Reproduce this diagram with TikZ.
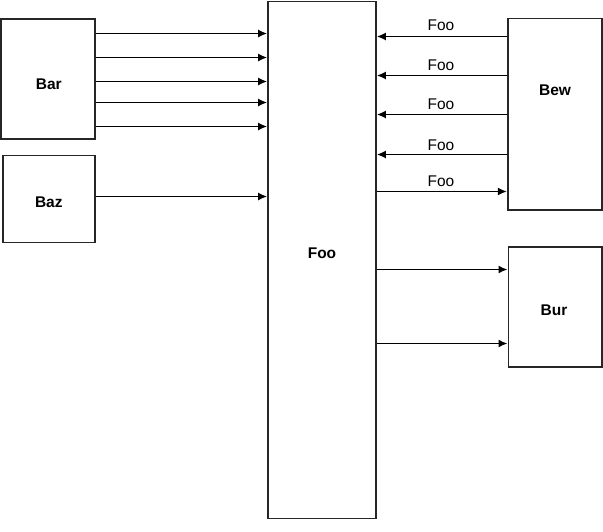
\documentclass[tikz,border=0pt]{standalone}
\usepackage{fontspec}
\setmainfont{Liberation Sans}
\usetikzlibrary{arrows.meta}
\begin{document}
\begin{tikzpicture}[x=1pt,y=-1pt,
  box/.style={draw=black!85,line width=1.6pt,fill=white,inner sep=0pt},
  txt/.style={font=\fontsize{15.5}{17}\selectfont\bfseries,inner sep=0pt},
  arr/.style={draw=black,line width=1.6pt,-{Latex[length=9pt,width=8pt]}},
  lab/.style={font=\fontsize{15.5}{17}\selectfont,inner sep=0pt}]
\useasboundingbox (0,0) rectangle (603,531);
\node[box,minimum width=93.4pt,minimum height=120pt] (bar) at (48,78.7) {};
\node[box,minimum width=92.3pt,minimum height=87pt] (baz) at (48.9,198.8) {};
\node[box,minimum width=108pt,minimum height=517pt] (foo) at (322,259.8) {};
\node[box,minimum width=94pt,minimum height=191.7pt] (bew) at (554.7,114.2) {};
\node[box,minimum width=93.4pt,minimum height=120pt] (bur) at (555,306.7) {};
\node[txt] (bart) at (48.8,84.5) {Bar};
\node[txt] (bazt) at (48.8,202.5) {Baz};
\node[txt] (foot) at (322,253) {Foo};
\node[txt] (bewt) at (555,90) {Bew};
\node[txt] (burt) at (554,310.5) {Bur};
\foreach \yy in {33.5,57.5,81.5,102.5,126.5}
  \draw[arr] (bar.east |- 0,\yy) -- (foo.west |- 0,\yy);
\draw[arr] (baz.east |- 0,196.5) -- (foo.west |- 0,196.5);
\foreach \yy/\ly in {36.5/25,75.5/65.7,114.5/104,154.5/145}
  \draw[arr] (bew.west |- 0,\yy) -- (foo.east |- 0,\yy) node[lab] at (441,\ly) {Foo};
\draw[arr] (foo.east |- 0,191.5) -- (bew.west |- 0,191.5) node[lab] at (441,181.7) {Foo};
\draw[arr] (foo.east |- 0,269.5) -- (bur.west |- 0,269.5);
\draw[arr] (foo.east |- 0,343.5) -- (bur.west |- 0,343.5);
\end{tikzpicture}
\end{document}
